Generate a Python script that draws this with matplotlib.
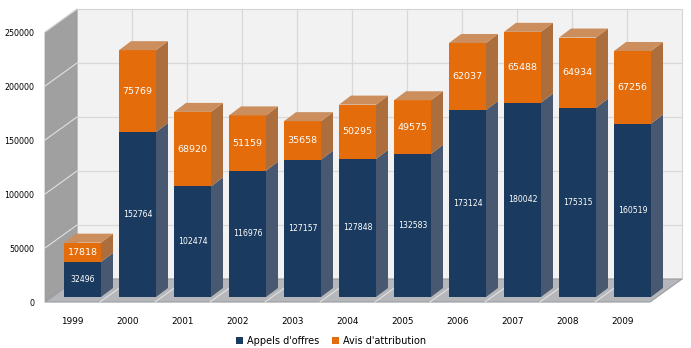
import matplotlib
matplotlib.use("Agg")
import matplotlib.pyplot as plt
from matplotlib.patches import Polygon, Patch
from matplotlib.lines import Line2D

years = ["1999", "2000", "2001", "2002", "2003", "2004", "2005", "2006", "2007", "2008", "2009"]
appels = [32496, 152764, 102474, 116976, 127157, 127848, 132583, 173124, 180042, 175315, 160519]
avis = [17818, 75769, 68920, 51159, 35658, 50295, 49575, 62037, 65488, 64934, 67256]
yticks = [0, 50000, 100000, 150000, 200000, 250000]
series_names = ["Appels d'offres", "Avis d'attribution"]

W, H = 691, 348
fig = plt.figure(figsize=(W / 100, H / 100), dpi=100)
fig.patch.set_facecolor("white")

# front plane of the 3D box
left_px, bottom_px, right_px, top_px = 45, 302, 650, 32
ax = fig.add_axes([left_px / W, 1 - bottom_px / H, (right_px - left_px) / W, (bottom_px - top_px) / H])
n = len(years)
ymax = yticks[-1]
ax.set_xlim(-0.5, n - 0.5)
ax.set_ylim(0, ymax)
for s in ax.spines.values():
    s.set_visible(False)
ax.set_facecolor("none")

px_per_x = (right_px - left_px) / n
px_per_y = (bottom_px - top_px) / ymax


def dxp(p):
    return p / px_per_x


def dyp(p):
    return p / px_per_y


# depth of walls
Dx, Dy = dxp(32), dyp(23)
x0, x1 = -0.5, n - 0.5

# back wall
ax.add_patch(Polygon([(x0 + Dx, Dy), (x1 + Dx, Dy), (x1 + Dx, ymax + Dy), (x0 + Dx, ymax + Dy)],
                     closed=True, facecolor="#f2f2f2", edgecolor="#d4d4d4", lw=0.8, zorder=1, clip_on=False))
for v in yticks[1:-1]:
    ax.add_line(Line2D([x0 + Dx, x1 + Dx], [v + Dy, v + Dy], color="#d9d9d9", lw=0.9, zorder=1.5, clip_on=False))
for k in range(1, n):
    xb = x0 + k + Dx
    ax.add_line(Line2D([xb, xb], [Dy, ymax + Dy], color="#d9d9d9", lw=0.9, zorder=1.5, clip_on=False))

# left wall
ax.add_patch(Polygon([(x0, 0), (x0 + Dx, Dy), (x0 + Dx, ymax + Dy), (x0, ymax)],
                     closed=True, facecolor="#a0a0a0", edgecolor="#999999", lw=0.5, zorder=2, clip_on=False))
for v in yticks[1:]:
    ax.add_line(Line2D([x0, x0 + Dx], [v, v + Dy], color="#e0e0e0", lw=0.8, zorder=2.5, clip_on=False))

# floor
ax.add_patch(Polygon([(x0, 0), (x1, 0), (x1 + Dx, Dy), (x0 + Dx, Dy)],
                     closed=True, facecolor="#b5b7bb", edgecolor="#9a9ca0", lw=0.8, zorder=2, clip_on=False))
for k in range(1, n):
    xb = x0 + k
    ax.add_line(Line2D([xb, xb + Dx], [0, Dy], color="#e6e6e6", lw=0.7, zorder=2.5, clip_on=False))

# bars
bw = dxp(37)
ox, oy = dxp(10), dyp(5)
bdx, bdy = dxp(12), dyp(9)
blue_front, blue_side = "#1a3a5f", "#475870"
or_front, or_side, or_top = "#e46c0a", "#ad6e3e", "#cb8e5c"

for i in range(n):
    l = i - bw / 2 + ox
    r = i + bw / 2 + ox
    b0 = oy
    b1 = appels[i] + oy
    b2 = appels[i] + avis[i] + oy
    z = 3 + i * 0.01
    # blue side
    ax.add_patch(Polygon([(r, b0), (r + bdx, b0 + bdy), (r + bdx, b1 + bdy), (r, b1)],
                         closed=True, facecolor=blue_side, edgecolor="none", zorder=z, clip_on=False))
    ax.add_patch(Polygon([(l, b0), (r, b0), (r, b1), (l, b1)],
                         closed=True, facecolor=blue_front, edgecolor="none", zorder=z, clip_on=False))
    # orange
    ax.add_patch(Polygon([(r, b1), (r + bdx, b1 + bdy), (r + bdx, b2 + bdy), (r, b2)],
                         closed=True, facecolor=or_side, edgecolor="none", zorder=z, clip_on=False))
    ax.add_patch(Polygon([(l, b1), (r, b1), (r, b2), (l, b2)],
                         closed=True, facecolor=or_front, edgecolor="none", zorder=z, clip_on=False))
    ax.add_patch(Polygon([(l, b2), (r, b2), (r + bdx, b2 + bdy), (l + bdx, b2 + bdy)],
                         closed=True, facecolor=or_top, edgecolor="none", zorder=z, clip_on=False))
    ax.text((l + r) / 2, (b0 + b1) / 2, str(appels[i]), color="white", fontsize=5.6,
            ha="center", va="center", zorder=5)
    ax.text((l + r) / 2, (b1 + b2) / 2, str(avis[i]), color="white", fontsize=6.8,
            ha="center", va="center", zorder=5)

ax.set_yticks(yticks)
ax.set_yticklabels([str(v) for v in yticks], fontsize=5.7)
ax.set_xticks(range(n))
ax.set_xticklabels(years, fontsize=6.4)
ax.tick_params(axis="y", length=0, pad=7.5)
ax.tick_params(axis="x", length=0, pad=11)

handles = [Patch(facecolor=blue_front, edgecolor="none"), Patch(facecolor=or_front, edgecolor="none")]
fig.legend(handles, series_names, loc="center", bbox_to_anchor=(331 / W, 1 - 341 / H), ncol=2,
           frameon=False, fontsize=7.0, handlelength=0.7, handleheight=0.7, handletextpad=0.4,
           columnspacing=1.3, borderaxespad=0, borderpad=0)

fig.savefig("out.png", dpi=100)
